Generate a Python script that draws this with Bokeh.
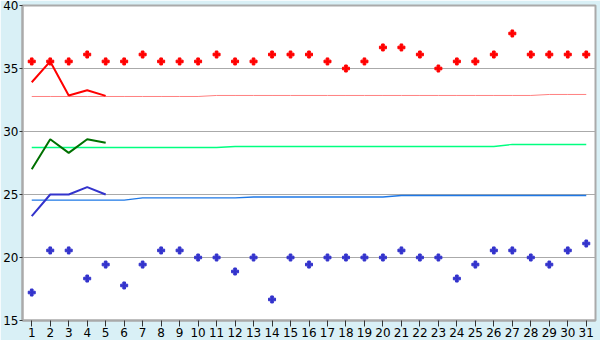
from bokeh.plotting import figure
from bokeh.models import Range1d, FixedTicker
from bokeh.embed import file_html
from bokeh.resources import INLINE

days = list(range(1, 32))
tick_labels = [str(d) for d in days]

# daily maximum (red markers) and minimum (blue markers), °C
daily_max = [35.56, 35.56, 35.56, 36.11, 35.56, 35.56, 36.11, 35.56, 35.56, 35.56,
             36.11, 35.56, 35.56, 36.11, 36.11, 36.11, 35.56, 35.00, 35.56, 36.67,
             36.67, 36.11, 35.00, 35.56, 35.56, 36.11, 37.78, 36.11, 36.11, 36.11, 36.11]
daily_min = [17.22, 20.56, 20.56, 18.33, 19.44, 17.78, 19.44, 20.56, 20.56, 20.00,
             20.00, 18.89, 20.00, 16.67, 20.00, 19.44, 20.00, 20.00, 20.00, 20.00,
             20.56, 20.00, 20.00, 18.33, 19.44, 20.56, 20.56, 20.00, 19.44, 20.56, 21.11]

# short series (first 5 days)
short_days = [1, 2, 3, 4, 5]
hi_recent = [33.91, 35.56, 32.86, 33.28, 32.83]
mean_recent = [27.0, 29.39, 28.3, 29.39, 29.1]
lo_recent = [23.28, 25.0, 25.0, 25.58, 25.0]

# normals (thin lines)
normal_hi = [32.78] * 10 + [32.86] * 18 + [32.94] * 3
normal_mean = [28.73] * 11 + [28.81] * 15 + [28.97] * 5
normal_lo = [24.55] * 6 + [24.73] * 6 + [24.80] * 8 + [24.92] * 11

yticks = [15, 20, 25, 30, 35, 40]

p = figure(width=600, height=340, output_backend="svg", toolbar_location=None,
           x_range=Range1d(0.5, 31.5), y_range=Range1d(15, 40),
           min_border_left=20, min_border_right=5, min_border_top=5, min_border_bottom=20)
p.border_fill_color = "#d9f0f6"
p.background_fill_color = "white"
p.outline_line_color = "#aaaaaa"
p.outline_line_width = 2

p.xgrid.visible = False
p.ygrid.ticker = FixedTicker(ticks=yticks)
p.ygrid.grid_line_color = "#aaaaaa"
p.ygrid.grid_line_width = 1

p.xaxis.ticker = FixedTicker(ticks=days)
p.xaxis.major_label_overrides = {d: l for d, l in zip(days, tick_labels)}
p.yaxis.ticker = FixedTicker(ticks=yticks)
for ax in (p.xaxis, p.yaxis):
    ax.axis_line_color = "#aaaaaa"
    ax.axis_line_width = 2
    ax.major_tick_line_color = "#333333"
    ax.minor_tick_line_color = None
    ax.major_tick_in = 0
    ax.major_label_text_font = "DejaVu Sans"
    ax.major_label_text_font_size = "12px"
    ax.major_label_text_color = "black"
p.xaxis.major_tick_out = 6
p.xaxis.major_label_standoff = 1
p.yaxis.major_tick_out = 3
p.yaxis.major_label_standoff = 1

# normals
p.line(days, normal_hi, color="#ff8080", line_width=1)
p.line(days, normal_mean, color="#00ff80", line_width=1.3)
p.line(days, normal_lo, color="#1e78e6", line_width=1.3)

# recent
p.line(short_days, hi_recent, color="#ff0000", line_width=2)
p.line(short_days, mean_recent, color="#007000", line_width=2)
p.line(short_days, lo_recent, color="#3333cc", line_width=2)

# daily extremes
p.scatter(days, daily_max, marker="plus", size=7, color="#ff0000")
p.scatter(days, daily_min, marker="plus", size=7, color="#3333cc")

open("out.html", "w").write(file_html(p, INLINE))
